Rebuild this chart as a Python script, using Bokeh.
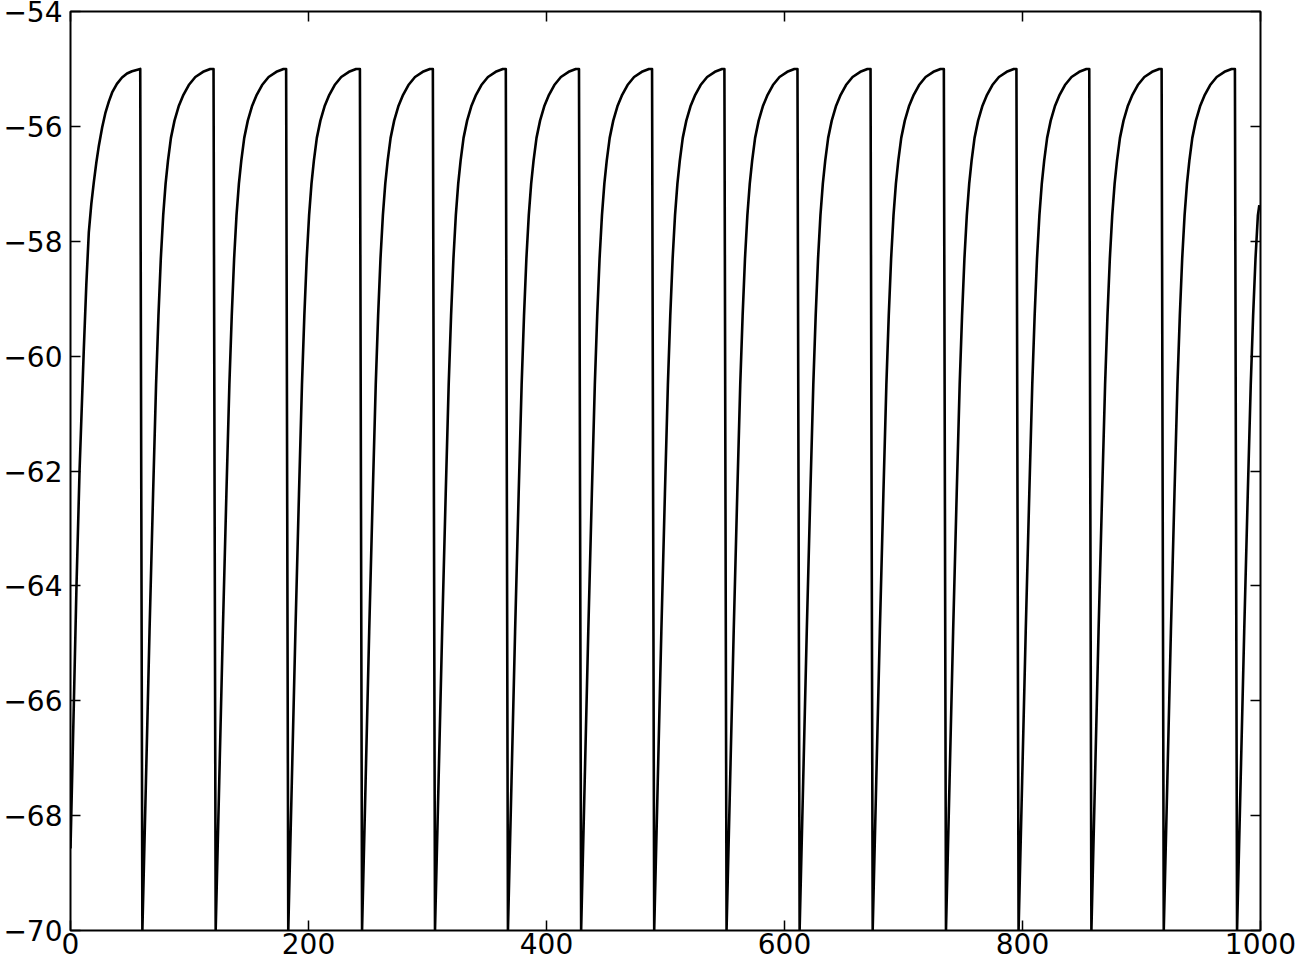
from bokeh.plotting import figure
from bokeh.models import LinearAxis, FixedTicker, ColumnDataSource, Range1d
from bokeh.embed import file_html
from bokeh.resources import INLINE

# ---- values ----
# first (partial) charging curve, starting at t=0
first_t = [0.0, 2.8, 5.0, 7.6, 11.2, 13.3, 15.4, 17.5, 19.6, 21.7, 23.8, 26.6, 29.4, 32.2, 35.0, 39.0, 43.3, 47.5, 51.7]
first_v = [-68.57, -66.06, -64.03, -62.0, -59.87, -58.75, -57.84, -57.35, -56.97, -56.63, -56.34, -56.02, -55.76, -55.57, -55.41, -55.26, -55.15, -55.08, -55.04]

# times at which the trace drops from threshold
spike_times = [58.6, 120.2, 181.2, 243.2, 304.5, 365.8, 427.3, 488.7,
               549.5, 610.9, 672.3, 733.9, 794.9, 856.1, 916.9, 978.5]
threshold_v = -55.0
reset_lag = 1.8  # time from threshold to the reset minimum

# shape of one charging curve after reset (time since reset, voltage)
cycle_dt = [0.0, 3.0, 6.0, 9.0, 11.5, 13.5, 15.5, 17.5, 19.5, 21.5, 24.0, 27.0,
            30.5, 34.5, 39.0, 44.5, 51.0, 57.0]
cycle_v = [-70.0, -67.4, -64.8, -62.4, -60.5, -59.3, -58.3, -57.55, -57.0, -56.6,
           -56.2, -55.9, -55.65, -55.45, -55.28, -55.14, -55.05, -55.0]

# last visible point of the trace
end_t = 999.0
end_v = -57.37

x_ticks = [0, 200, 400, 600, 800, 1000]
y_ticks = [-70, -68, -66, -64, -62, -60, -58, -56, -54]

# ---- assemble the trace from the read values ----
ts = list(first_t)
vs = list(first_v)
for i, s in enumerate(spike_times):
    ts.append(s)
    vs.append(threshold_v)
    r = s + reset_lag
    nxt = spike_times[i + 1] if i + 1 < len(spike_times) else end_t
    for dt, v in zip(cycle_dt, cycle_v):
        if r + dt < nxt:
            ts.append(r + dt)
            vs.append(v)
    if i + 1 == len(spike_times):
        ts.append(end_t)
        vs.append(end_v)

src = ColumnDataSource(data=dict(t=ts, v=vs))

FONT = "DejaVu Sans"
FS = "28px"

p = figure(width=1296, height=962, output_backend="svg", toolbar_location=None,
           x_range=Range1d(0, 1000), y_range=Range1d(-70, -54),
           min_border_left=68, min_border_right=36, min_border_top=11, min_border_bottom=32,
           x_axis_type=None, y_axis_type=None)
p.background_fill_color = "white"
p.border_fill_color = "white"
p.outline_line_color = "black"
p.outline_line_width = 2
p.outline_line_alpha = 1.0
p.xgrid.visible = False
p.ygrid.visible = False

p.line("t", "v", source=src, line_color="black", line_width=2.6, line_join="round")


def make_axis(ticks, labels=True, overrides=None, standoff=4):
    ax = LinearAxis(ticker=FixedTicker(ticks=ticks))
    ax.axis_line_color = None
    ax.major_tick_in = 10
    ax.major_tick_out = 0
    ax.major_tick_line_color = "black"
    ax.major_tick_line_width = 1.5
    ax.minor_tick_in = 0
    ax.minor_tick_out = 0
    ax.minor_tick_line_color = None
    if labels:
        ax.major_label_text_font = FONT
        ax.major_label_text_font_size = FS
        ax.major_label_text_color = "black"
        ax.major_label_standoff = standoff
        if overrides:
            ax.major_label_overrides = overrides
    else:
        ax.major_label_overrides = {v: "" for v in ticks}
        ax.major_label_text_font_size = "1px"
        ax.major_label_standoff = 0
    return ax


y_over = {v: ("\u2212" + str(abs(v)) if v < 0 else str(v)) for v in y_ticks}
x_over = {v: str(v) for v in x_ticks}

p.add_layout(make_axis(x_ticks, True, x_over, standoff=2), "below")
p.add_layout(make_axis(y_ticks, True, y_over, standoff=8), "left")
p.add_layout(make_axis(x_ticks, False), "above")
p.add_layout(make_axis(y_ticks, False), "right")

open("out.html", "w").write(file_html(p, INLINE))
